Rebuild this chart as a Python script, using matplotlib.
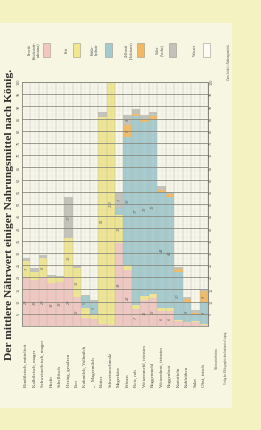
import matplotlib
matplotlib.use("Agg")
import matplotlib.pyplot as plt
from matplotlib.patches import Rectangle
import numpy as np

# ---------------- data (percent of fresh substance) ----------------
categories = ["Rindfleisch, mittelfett", "Kalbfleisch, mager", "Schweinefleisch, mager",
              "Hecht", "Schellfisch", "Hering, gesalzen", "Eier", "Kuhmilch, Vollmilch",
              "„   Magermilch", "Butter", "Schweineschmalz", "Magerkäse", "Erbsen",
              "Reis, roh", "Weizenmehl, feinstes", "Roggenmehl", "Weizenbrot, feinstes",
              "Roggenbrot", "Kartoffeln", "Kohlrüben", "Salat", "Obst, frisch"]
protein = [20.2, 18.8, 20.0, 17.8, 18.2, 20.0, 12.0, 3.4, 2.8, 0.8, 0.3, 34.0, 23.0,
           6.8, 10.7, 11.5, 6.2, 6.2, 2.2, 1.5, 1.5, 0.5]
fat = [6.6, 3.5, 7.7, 2.2, 1.3, 16.0, 11.6, 3.8, 2.2, 85.0, 99.5, 11.6, 1.8,
       1.8, 1.6, 1.6, 1.2, 1.2, 0.3, 0.2, 0.4, 0.2]
carbs = [0, 0, 0, 0, 0, 0, 0, 4.9, 4.9, 0, 0, 2.7, 52.8,
         77.4, 71.5, 71.5, 47.5, 45.5, 19.8, 8.0, 2.8, 9.3]
fiber = [0, 0, 0, 0, 0, 0, 0, 0, 0, 0, 0, 0, 4.8,
         1.0, 1.2, 1.5, 1.0, 1.2, 1.0, 1.3, 0.8, 4.2]
salts = [1.1, 1.5, 1.3, 0.9, 1.0, 16.7, 1.4, 0.8, 0.7, 2.0, 0, 6.8, 4.1,
         2.0, 1.5, 1.5, 1.3, 1.0, 1.0, 1.0, 1.0, 0.5]
legend_labels = ["Eiweiß\n(Stickstoff-\nsubstanz)", "Fett", "Kohle-\nhydrate",
                 "Zellstoff\n(Holzfaser)", "Salze\n(Asche)", "Wasser"]
ytick_values = list(range(5, 101, 5))
title = "Der mittlere Nährwert einiger Nahrungsmittel nach König."

# ---------------- style ----------------
W, H = 261, 430
outer = "#f4f2c0"
page = "#f7f6e3"
seg_colors = ["#f2c7c2", "#f1e78e", "#a2cacf", "#f2b962", "#c2c2ba", "#fdfcf4"]
serif = ["Liberation Serif", "DejaVu Serif"]

def fx(x):
    return x / W

def fy(y):
    return 1 - y / H

fig = plt.figure(figsize=(W / 100, H / 100), dpi=100)
fig.patch.set_facecolor(outer)
fig.add_artist(Rectangle((fx(0), fy(408)), 232 / W, (408 - 23) / H,
                         transform=fig.transFigure, facecolor=page,
                         edgecolor="none", zorder=0))

# ---------------- chart ----------------
ax = fig.add_axes([fx(22), fy(326), 186 / W, 244 / H])
ax.set_facecolor("#f9f8ec")
n = len(categories)
xs = np.arange(n) + 0.5
bottom = np.zeros(n)
series = [protein, fat, carbs, fiber, salts]
for vals, col in zip(series, seg_colors[:5]):
    vals = np.array(vals, dtype=float)
    ax.bar(xs, vals, width=1.0, bottom=bottom, color=col, edgecolor="none", zorder=1)
    for xi, b, v in zip(xs, bottom, vals):
        if v >= 4:
            ax.text(xi, b + v / 2, f"{v:.0f}", rotation=90, ha="center", va="center",
                    fontsize=2.6, style="italic", color="#6a6a60", zorder=3)
    bottom += vals

ax.set_xlim(0, n)
ax.set_ylim(0, 100)
ax.set_yticks(ytick_values)
ax.set_yticks(np.arange(0, 101, 1), minor=True)
ax.set_xticks(np.arange(0, n + 1, 1))
ax.set_xticks(np.arange(0.5, n, 1), minor=True)
ax.grid(axis="y", which="major", color="#8a8a80", lw=0.6, zorder=2)
ax.grid(axis="y", which="minor", color="#cfcfc2", lw=0.25, ls=(0, (1, 1)), zorder=2)
ax.grid(axis="x", which="major", color="#b8b8ac", lw=0.35, zorder=2)
ax.grid(axis="x", which="minor", color="#d6d6ca", lw=0.2, zorder=2)
ax.set_axisbelow(False)
ax.tick_params(axis="x", which="both", length=0, labelbottom=False)
ax.tick_params(axis="y", which="both", length=0, labelsize=2.4, labelleft=True,
               labelright=True, pad=0.8, labelcolor="#55554c")
ax.set_yticklabels([str(v) for v in ytick_values], rotation=90, va="center")
for s in ["left", "right"]:
    ax.spines[s].set_color("#6e6e66")
    ax.spines[s].set_linewidth(0.6)
for s in ["top", "bottom"]:
    ax.spines[s].set_color("#8e8e84")
    ax.spines[s].set_linewidth(0.6)

# category labels below the baseline (rotated)
for i, lab in enumerate(categories):
    cx = 22 + (i + 0.5) * 186 / n
    fig.text(fx(cx), fy(387), lab, rotation=90, ha="center", va="bottom",
             fontsize=3.5, family=serif, color="#4a4a44")

# ---------------- legend ----------------
sw_x = [43, 73, 105, 137, 169, 203]
tx_x = [34, 67, 95, 129, 160, 195]
for c, sx, tx, lab in zip(seg_colors, sw_x, tx_x, legend_labels):
    fig.add_artist(Rectangle((fx(sx), fy(57)), 7 / W, 14 / H, transform=fig.transFigure,
                             facecolor=c, edgecolor="#9a9a90", lw=0.4, zorder=3))
    fig.text(fx(tx), fy(50), lab, rotation=90, ha="center", va="center",
             multialignment="center", fontsize=2.8, family=serif, color="#4a4a44",
             linespacing=1.0)

# ---------------- title & page texts ----------------
renderer = fig.canvas.get_renderer()

def fitted(x, y, text, length, size0, **kw):
    t = fig.text(fx(x), fy(y), text, rotation=90, ha="center", va="center",
                 fontsize=size0, **kw)
    ext = t.get_window_extent(renderer)
    t.set_fontsize(size0 * length / ext.height)
    return t

fitted(10, 214, title, 288, 8, family=serif, weight="bold", color="#2e2e2a")
fitted(229, 62, "Zum Artikel »Nahrungsmittel«.", 36, 3, family=serif, color="#55554c")
fitted(217, 358, "Nährwerteinheiten.", 22, 3, family=serif, color="#55554c")
fitted(226, 357, "Verlag des Bibliographischen Instituts in Leipzig.", 51, 3,
       family=serif, color="#55554c")

fig.savefig("out.png", dpi=100, facecolor=fig.get_facecolor())
